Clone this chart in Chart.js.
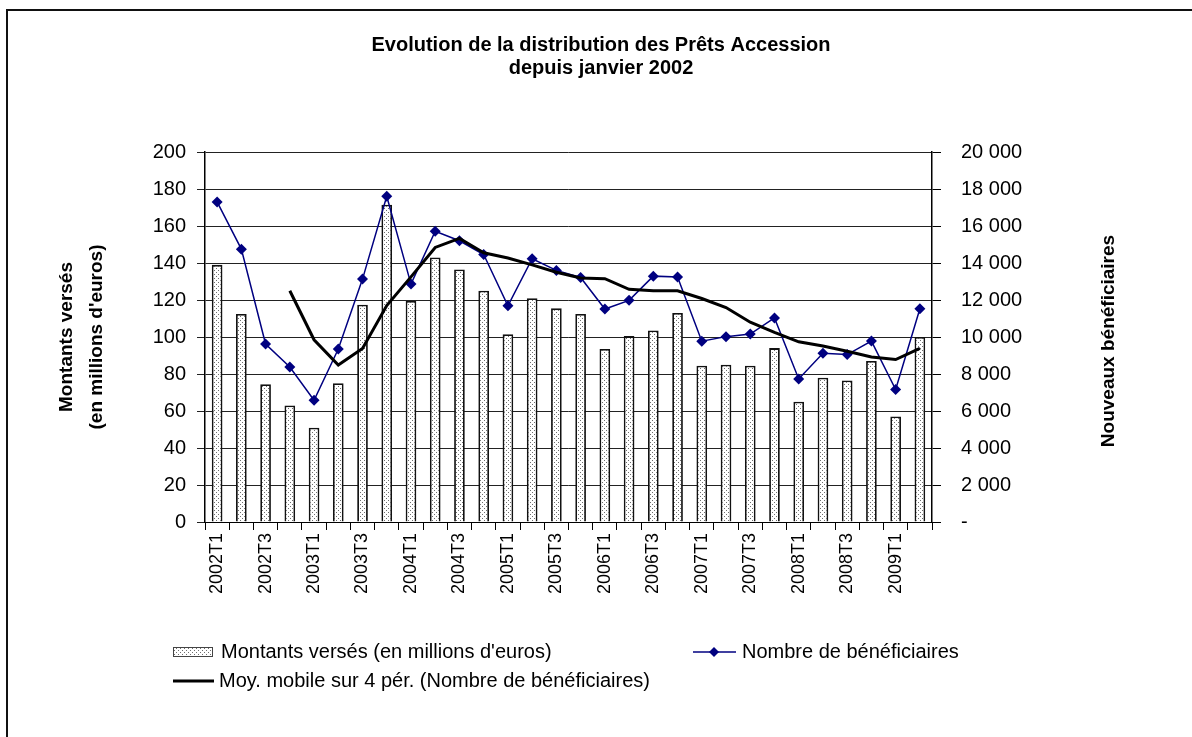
<!DOCTYPE html>
<html lang="fr">
<head>
<meta charset="utf-8">
<title>Prêts Accession</title>
<script src="https://cdn.jsdelivr.net/npm/chart.js@4.4.1/dist/chart.umd.min.js"></script>
<style>
    html, body { margin: 0; padding: 0; background: #fff; overflow: hidden; }
    #wrap { position: relative; width: 1192px; height: 737px; }
    #frame {
        position: absolute; left: 6px; top: 9px; width: 1400px; height: 1000px;
        border-left: 2px solid #111; border-top: 2px solid #111; pointer-events: none;
    }
</style>
</head>
<body>
<div id="wrap">
    <canvas id="chart"></canvas>
    <div id="frame"></div>
</div>
<script>
'use strict';

const trimestres = [
    "2002T1", "2002T2", "2002T3", "2002T4", "2003T1", "2003T2", "2003T3", "2003T4",
    "2004T1", "2004T2", "2004T3", "2004T4", "2005T1", "2005T2", "2005T3", "2005T4",
    "2006T1", "2006T2", "2006T3", "2006T4", "2007T1", "2007T2", "2007T3", "2007T4",
    "2008T1", "2008T2", "2008T3", "2008T4", "2009T1", "2009T2"
];

// millions d'euros
const montants = [
    139, 112.5, 74.5, 63, 51, 75, 117.5, 171.5, 119.5, 143,
    136.5, 125, 101.5, 121, 115.5, 112.5, 93.5, 100.5, 103.5, 113,
    84.5, 85, 84.5, 94, 65, 78, 76.5, 87, 57, 100
];

const beneficiaires = [
    17300, 14750, 9620, 8380, 6580, 9350, 13130, 17610, 12860, 15720,
    15200, 14460, 11690, 14230, 13600, 13220, 11510, 11980, 13290, 13240,
    9770, 10020, 10160, 11030, 7730, 9120, 9050, 9780, 7160, 11530
];

// moyenne mobile sur 4 périodes
const moyMobile = [
    null, null, null, 12500, 9850, 8490, 9380, 11700, 13250, 14840,
    15330, 14550, 14270, 13900, 13500, 13190, 13150, 12580, 12500, 12500,
    12080, 11590, 10800, 10250, 9740, 9510, 9230, 8920, 8780, 9380
];

const leftTicks = { min: 0, max: 200, step: 20 };
const rightTicks = { min: 0, max: 20000, step: 2000 };

const FONT = "'Liberation Sans', Arial, sans-serif";

function makeDots() {
    let c = document.createElement('canvas');
    c.width = 4;
    c.height = 4;
    let g = c.getContext('2d');
    g.fillStyle = '#ffffff';
    g.fillRect(0, 0, 4, 4);
    g.fillStyle = '#6e6e6e';
    g.fillRect(0, 0, 1, 1);
    g.fillRect(2, 2, 1, 1);
    return g.createPattern(c, 'repeat');
}

function formatMilliers(v) {
    if (v === 0) return '-';
    return String(v).replace(/\B(?=(\d{3})+(?!\d))/g, ' ');
}

const dots = makeDots();

// titre de l'axe de droite (lu de bas en haut) et légende
const extras = {
    id: 'extras',
    afterDraw(chart) {
        let ctx = chart.ctx;
        let area = chart.chartArea;
        ctx.save();
        ctx.fillStyle = '#000';
        ctx.font = "bold 19px " + FONT;
        ctx.textAlign = 'center';
        ctx.textBaseline = 'middle';
        ctx.translate(area.right + 177, (area.top + area.bottom) / 2 + 4);
        ctx.rotate(-Math.PI / 2);
        ctx.fillText('Nouveaux bénéficiaires', 0, 0);
        ctx.restore();

        ctx.save();
        ctx.font = "20px " + FONT;
        ctx.textAlign = 'left';
        ctx.textBaseline = 'middle';
        ctx.fillStyle = '#000';

        // Montants
        ctx.fillStyle = dots;
        ctx.fillRect(173, 647, 40, 10);
        ctx.strokeStyle = '#444';
        ctx.lineWidth = 1;
        ctx.strokeRect(173.5, 647.5, 39, 9);
        ctx.fillStyle = '#000';
        ctx.fillText(chart.data.datasets[0].label, 221, 652);

        // Nombre
        ctx.strokeStyle = '#000080';
        ctx.lineWidth = 1.5;
        ctx.beginPath();
        ctx.moveTo(693, 652);
        ctx.lineTo(736, 652);
        ctx.stroke();
        ctx.fillStyle = '#000080';
        ctx.beginPath();
        ctx.moveTo(714, 647);
        ctx.lineTo(719, 652);
        ctx.lineTo(714, 657);
        ctx.lineTo(709, 652);
        ctx.closePath();
        ctx.fill();
        ctx.fillStyle = '#000';
        ctx.fillText(chart.data.datasets[1].label, 742, 652);

        // Moyenne mobile
        ctx.strokeStyle = '#000';
        ctx.lineWidth = 3;
        ctx.beginPath();
        ctx.moveTo(173, 681);
        ctx.lineTo(214, 681);
        ctx.stroke();
        ctx.fillText(chart.data.datasets[2].label, 219, 681);
        ctx.restore();
    }
};

new Chart(document.getElementById('chart'), {
    type: 'bar',
    data: {
        labels: trimestres,
        datasets: [
            {
                type: 'bar',
                label: "Montants versés (en millions d'euros)",
                data: montants,
                yAxisID: 'y',
                backgroundColor: dots,
                borderColor: '#111',
                borderWidth: 1.8,
                barPercentage: 0.44,
                categoryPercentage: 1,
                order: 3
            },
            {
                type: 'line',
                label: 'Nombre de bénéficiaires',
                data: beneficiaires,
                yAxisID: 'y1',
                borderColor: '#000080',
                backgroundColor: '#000080',
                borderWidth: 1.5,
                pointStyle: 'rectRot',
                pointRadius: 5.5,
                pointBorderWidth: 0,
                tension: 0,
                order: 2
            },
            {
                type: 'line',
                label: 'Moy. mobile sur 4 pér. (Nombre de bénéficiaires)',
                data: moyMobile,
                yAxisID: 'y1',
                borderColor: '#000',
                borderWidth: 3,
                pointRadius: 0,
                tension: 0,
                spanGaps: false,
                order: 1
            }
        ]
    },
    options: {
        responsive: true,
        maintainAspectRatio: false,
        animation: false,
        layout: { padding: { top: 0, left: 10, right: 0, bottom: 125 } },
        plugins: {
            legend: { display: false },
            tooltip: { enabled: false },
            title: {
                display: true,
                text: ['Evolution de la distribution des Prêts Accession', 'depuis janvier 2002'],
                color: '#000',
                font: { family: FONT, size: 20, weight: 'bold', lineHeight: '23px' },
                padding: { top: 33.5, bottom: 72.5 }
            }
        },
        scales: {
            x: {
                grid: { drawOnChartArea: false, color: '#000', tickLength: 8, offset: true },
                border: { color: '#000', width: 1 },
                ticks: {
                    autoSkip: false,
                    minRotation: 90,
                    maxRotation: 90,
                    padding: 3,
                    color: '#000',
                    font: { family: FONT, size: 18 },
                    callback: function (v, i) {
                        return i % 2 === 0 ? this.getLabelForValue(v) : '';
                    }
                },
                afterFit: (scale) => { scale.height = 90; }
            },
            y: {
                position: 'left',
                min: leftTicks.min,
                max: leftTicks.max,
                ticks: {
                    stepSize: leftTicks.step,
                    padding: 11,
                    color: '#000',
                    font: { family: FONT, size: 20 }
                },
                grid: { color: '#222', lineWidth: 1, tickLength: 8 },
                border: { color: '#000', width: 1.5 },
                title: {
                    display: true,
                    text: ['Montants versés', "(en millions d'euros)"],
                    color: '#000',
                    font: { family: FONT, size: 19, weight: 'bold', lineHeight: '30px' },
                    padding: { top: 42, bottom: 0 }
                },
                afterFit: (scale) => { scale.width = 195; }
            },
            y1: {
                position: 'right',
                min: rightTicks.min,
                max: rightTicks.max,
                ticks: {
                    stepSize: rightTicks.step,
                    padding: 20,
                    color: '#000',
                    font: { family: FONT, size: 20 },
                    callback: (v) => formatMilliers(v)
                },
                grid: { drawOnChartArea: false, color: '#000', tickLength: 9 },
                border: { color: '#000', width: 1.5 },
                afterFit: (scale) => { scale.width = 260; }
            }
        }
    },
    plugins: [extras]
});
</script>
</body>
</html>
